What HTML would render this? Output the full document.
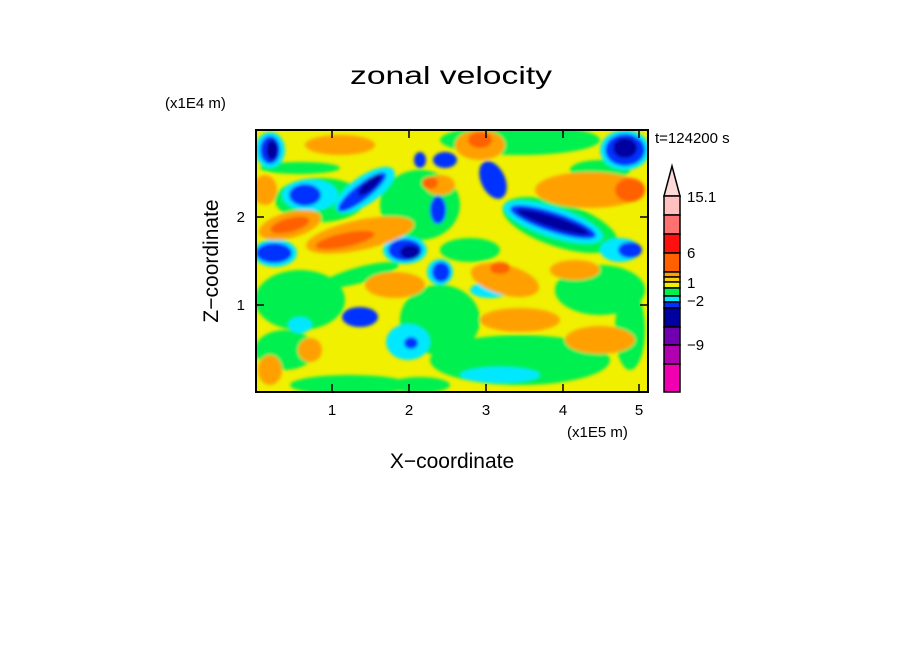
<!DOCTYPE html>
<html><head><meta charset="utf-8"><style>
html,body{margin:0;padding:0;background:#fff;}
svg{display:block;}
text{font-family:"Liberation Sans",sans-serif;fill:#000;}
</style></head><body>
<svg width="904" height="654" viewBox="0 0 904 654" xmlns="http://www.w3.org/2000/svg">
<defs>
<clipPath id="c"><rect x="256" y="130" width="392" height="262"/></clipPath>
<filter id="b" x="-10%" y="-10%" width="120%" height="120%"><feGaussianBlur stdDeviation="1.5"/></filter>
</defs>
<text x="451" y="84" font-size="25" text-anchor="middle" textLength="202" lengthAdjust="spacingAndGlyphs">zonal velocity</text>
<text x="165" y="108" font-size="15">(x1E4 m)</text>
<text x="655" y="143" font-size="15">t=124200 s</text>
<g clip-path="url(#c)">
<rect x="256" y="130" width="392" height="262" fill="#f0f000"/>
<g filter="url(#b)">
<!-- green areas -->
<ellipse cx="300" cy="300" rx="45" ry="30" fill="#00f050"/>
<ellipse cx="285" cy="350" rx="30" ry="20" fill="#00f050"/>
<ellipse cx="520" cy="360" rx="90" ry="25" fill="#00f050"/>
<ellipse cx="440" cy="320" rx="40" ry="35" fill="#00f050"/>
<ellipse cx="600" cy="290" rx="45" ry="25" fill="#00f050"/>
<ellipse cx="520" cy="140" rx="80" ry="15" fill="#00f050"/>
<ellipse cx="350" cy="385" rx="60" ry="10" fill="#00f050"/>
<ellipse cx="420" cy="385" rx="30" ry="8" fill="#00f050"/>
<ellipse cx="320" cy="200" rx="45" ry="22" fill="#00f050"/>
<ellipse cx="420" cy="205" rx="40" ry="35" fill="#00f050"/>
<ellipse cx="560" cy="225" rx="60" ry="22" fill="#00f050" transform="rotate(18 560 225)"/>
<ellipse cx="300" cy="168" rx="40" ry="6" fill="#00f050"/>
<ellipse cx="360" cy="275" rx="40" ry="8" fill="#00f050" transform="rotate(-15 360 275)"/>
<ellipse cx="630" cy="330" rx="15" ry="40" fill="#00f050"/>
<ellipse cx="470" cy="250" rx="30" ry="12" fill="#00f050"/>
<ellipse cx="600" cy="170" rx="30" ry="10" fill="#00f050"/>
<!-- cyan -->
<ellipse cx="310" cy="195" rx="28" ry="16" fill="#00e8ff"/>
<ellipse cx="365" cy="190" rx="35" ry="14" fill="#00e8ff" transform="rotate(-35 365 190)"/>
<ellipse cx="553" cy="222" rx="52" ry="15" fill="#00e8ff" transform="rotate(18 553 222)"/>
<ellipse cx="408" cy="342" rx="22" ry="18" fill="#00e8ff"/>
<ellipse cx="275" cy="253" rx="22" ry="14" fill="#00e8ff"/>
<ellipse cx="440" cy="272" rx="13" ry="13" fill="#00e8ff"/>
<ellipse cx="405" cy="250" rx="22" ry="14" fill="#00e8ff"/>
<ellipse cx="490" cy="290" rx="20" ry="8" fill="#00e8ff"/>
<ellipse cx="625" cy="150" rx="25" ry="20" fill="#00e8ff"/>
<ellipse cx="270" cy="150" rx="15" ry="18" fill="#00e8ff"/>
<ellipse cx="500" cy="375" rx="40" ry="8" fill="#00e8ff"/>
<ellipse cx="620" cy="250" rx="20" ry="12" fill="#00e8ff"/>
<ellipse cx="300" cy="325" rx="12" ry="8" fill="#00e8ff"/>
<!-- blue -->
<ellipse cx="553" cy="222" rx="45" ry="10" fill="#0030ff" transform="rotate(18 553 222)"/>
<ellipse cx="305" cy="195" rx="16" ry="11" fill="#0030ff"/>
<ellipse cx="362" cy="192" rx="30" ry="8" fill="#0030ff" transform="rotate(-38 362 192)"/>
<ellipse cx="405" cy="250" rx="17" ry="11" fill="#0030ff"/>
<ellipse cx="441" cy="272" rx="9" ry="10" fill="#0030ff"/>
<ellipse cx="274" cy="253" rx="18" ry="10" fill="#0030ff"/>
<ellipse cx="360" cy="317" rx="18" ry="10" fill="#0030ff"/>
<ellipse cx="411" cy="343" rx="7" ry="6" fill="#0030ff"/>
<ellipse cx="625" cy="150" rx="20" ry="16" fill="#0030ff"/>
<ellipse cx="270" cy="150" rx="10" ry="14" fill="#0030ff"/>
<ellipse cx="493" cy="180" rx="12" ry="20" fill="#0030ff" transform="rotate(-25 493 180)"/>
<ellipse cx="445" cy="160" rx="12" ry="8" fill="#0030ff"/>
<ellipse cx="438" cy="210" rx="8" ry="14" fill="#0030ff"/>
<ellipse cx="420" cy="160" rx="6" ry="8" fill="#0030ff"/>
<ellipse cx="630" cy="250" rx="12" ry="8" fill="#0030ff"/>
<!-- dark blue -->
<ellipse cx="553" cy="222" rx="38" ry="6" fill="#0000a0" transform="rotate(18 553 222)"/>
<ellipse cx="410" cy="252" rx="10" ry="7" fill="#0000a0"/>
<ellipse cx="625" cy="148" rx="12" ry="10" fill="#0000a0"/>
<ellipse cx="272" cy="150" rx="6" ry="10" fill="#0000a0"/>
<ellipse cx="370" cy="185" rx="15" ry="5" fill="#0000a0" transform="rotate(-40 370 185)"/>
<!-- orange -->
<ellipse cx="290" cy="225" rx="32" ry="13" fill="#ffa000" transform="rotate(-15 290 225)"/>
<ellipse cx="360" cy="235" rx="55" ry="15" fill="#ffa000" transform="rotate(-12 360 235)"/>
<ellipse cx="590" cy="190" rx="55" ry="18" fill="#ffa000"/>
<ellipse cx="505" cy="280" rx="35" ry="15" fill="#ffa000" transform="rotate(15 505 280)"/>
<ellipse cx="395" cy="285" rx="30" ry="13" fill="#ffa000"/>
<ellipse cx="520" cy="320" rx="40" ry="12" fill="#ffa000"/>
<ellipse cx="480" cy="145" rx="25" ry="15" fill="#ffa000"/>
<ellipse cx="270" cy="370" rx="12" ry="15" fill="#ffa000"/>
<ellipse cx="600" cy="340" rx="35" ry="14" fill="#ffa000"/>
<ellipse cx="440" cy="185" rx="15" ry="10" fill="#ffa000"/>
<ellipse cx="265" cy="190" rx="12" ry="15" fill="#ffa000"/>
<ellipse cx="340" cy="145" rx="35" ry="10" fill="#ffa000"/>
<ellipse cx="575" cy="270" rx="25" ry="10" fill="#ffa000"/>
<ellipse cx="310" cy="350" rx="12" ry="12" fill="#ffa000"/>
<!-- dark orange -->
<ellipse cx="290" cy="225" rx="20" ry="7" fill="#ff6000" transform="rotate(-15 290 225)"/>
<ellipse cx="345" cy="240" rx="30" ry="7" fill="#ff6000" transform="rotate(-12 345 240)"/>
<ellipse cx="630" cy="190" rx="15" ry="12" fill="#ff6000"/>
<ellipse cx="480" cy="140" rx="12" ry="8" fill="#ff6000"/>
<ellipse cx="500" cy="268" rx="10" ry="6" fill="#ff6000"/>
<ellipse cx="430" cy="183" rx="8" ry="6" fill="#ff6000"/>
</g>
</g>
<rect x="256" y="130" width="392" height="262" fill="none" stroke="#000" stroke-width="2"/>
<g stroke="#000" stroke-width="1.5">
<path d="M332 392v-8M409 392v-8M486 392v-8M563 392v-8M639 392v-8M332 130v8M409 130v8M486 130v8M563 130v8M639 130v8M256 217h8M256 305h8M648 217h-8M648 305h-8"/>
</g>
<text x="332" y="415" font-size="15" text-anchor="middle">1</text>
<text x="409" y="415" font-size="15" text-anchor="middle">2</text>
<text x="486" y="415" font-size="15" text-anchor="middle">3</text>
<text x="563" y="415" font-size="15" text-anchor="middle">4</text>
<text x="639" y="415" font-size="15" text-anchor="middle">5</text>
<text x="245" y="222" font-size="15" text-anchor="end">2</text>
<text x="245" y="310" font-size="15" text-anchor="end">1</text>
<text x="567" y="437" font-size="15">(x1E5 m)</text>
<text x="452" y="468" font-size="21" text-anchor="middle">X−coordinate</text>
<text transform="translate(218 261) rotate(-90)" font-size="21" text-anchor="middle">Z−coordinate</text>
<g stroke="#000" stroke-width="1.5">
<polygon points="664,196 680,196 672,166" fill="#ffd8d8"/>
<rect x="664" y="196" width="16" height="19" fill="#ffc0c0"/>
<rect x="664" y="215" width="16" height="19" fill="#ff7070"/>
<rect x="664" y="234" width="16" height="19" fill="#ff1010"/>
<rect x="664" y="253" width="16" height="19" fill="#ff6000"/>
<rect x="664" y="272" width="16" height="5" fill="#ffa000"/>
<rect x="664" y="277" width="16" height="5" fill="#ffcc00"/>
<rect x="664" y="282" width="16" height="6" fill="#f0f000"/>
<rect x="664" y="288" width="16" height="8" fill="#00f050"/>
<rect x="664" y="296" width="16" height="6" fill="#00e8ff"/>
<rect x="664" y="302" width="16" height="6" fill="#0030ff"/>
<rect x="664" y="308" width="16" height="19" fill="#0000a0"/>
<rect x="664" y="327" width="16" height="18" fill="#7000b0"/>
<rect x="664" y="345" width="16" height="19" fill="#b000b0"/>
<rect x="664" y="364" width="16" height="28" fill="#f000b0"/>
</g>
<text x="687" y="202" font-size="15">15.1</text>
<text x="687" y="258" font-size="15">6</text>
<text x="687" y="288" font-size="15">1</text>
<text x="687" y="306" font-size="15">−2</text>
<text x="687" y="350" font-size="15">−9</text>
</svg>
</body></html>
